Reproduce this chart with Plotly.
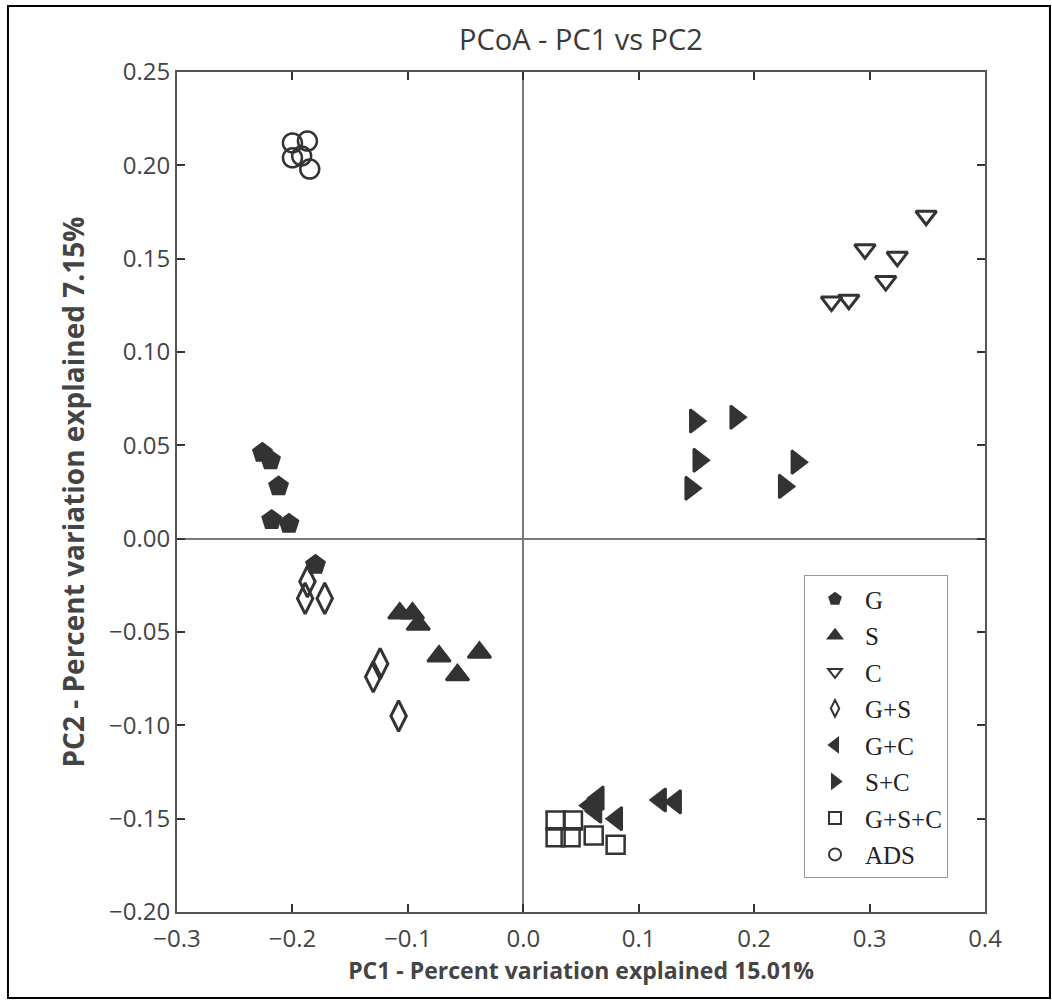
import plotly.graph_objects as go

# PCoA coordinates (PC1, PC2) per treatment group
g_x = [-0.226, -0.219, -0.212, -0.218, -0.203, -0.180]
g_y = [0.046, 0.042, 0.028, 0.010, 0.008, -0.014]

s_x = [-0.107, -0.096, -0.091, -0.073, -0.038, -0.057]
s_y = [-0.040, -0.040, -0.046, -0.063, -0.061, -0.073]

c_x = [0.349, 0.296, 0.324, 0.314, 0.282, 0.267]
c_y = [0.173, 0.155, 0.151, 0.138, 0.128, 0.127]

gs_x = [-0.187, -0.189, -0.172, -0.124, -0.130, -0.108]
gs_y = [-0.023, -0.032, -0.032, -0.067, -0.074, -0.095]

gc_x = [0.065, 0.058, 0.063, 0.081, 0.119, 0.132]
gc_y = [-0.139, -0.143, -0.146, -0.150, -0.140, -0.141]

sc_x = [0.149, 0.184, 0.152, 0.237, 0.145, 0.226]
sc_y = [0.063, 0.065, 0.042, 0.041, 0.027, 0.028]

gsc_x = [0.028, 0.043, 0.028, 0.041, 0.061, 0.080]
gsc_y = [-0.151, -0.151, -0.160, -0.160, -0.159, -0.164]

ads_x = [-0.200, -0.187, -0.200, -0.192, -0.185]
ads_y = [0.212, 0.213, 0.204, 0.205, 0.198]

x_ticks = [-0.3, -0.2, -0.1, 0.0, 0.1, 0.2, 0.3, 0.4]
y_ticks = [-0.20, -0.15, -0.10, -0.05, 0.00, 0.05, 0.10, 0.15, 0.20, 0.25]

INK = "#333333"

# (name, x, y, symbol, size, line width, legend rank); drawing order puts overlapping groups on top
series = [
    ("G+S+C", gsc_x, gsc_y, "square-open", 18, 2.5, 7),
    ("G+C", gc_x, gc_y, "triangle-left", 20, 2.5, 5),
    ("G+S", gs_x, gs_y, "diamond-tall-open", 22, 3, 4),
    ("G", g_x, g_y, "pentagon", 19, 2.5, 1),
    ("S", s_x, s_y, "triangle-up", 20, 2.5, 2),
    ("C", c_x, c_y, "triangle-down-open", 18, 3, 3),
    ("S+C", sc_x, sc_y, "triangle-right", 20, 2.5, 6),
    ("ADS", ads_x, ads_y, "circle-open", 19, 2.5, 8),
]

fig = go.Figure()
for name, xs, ys, sym, size, lw, rank in series:
    fig.add_trace(go.Scatter(
        x=xs, y=ys, mode="markers", name=name,
        legendgroup=name, legendrank=rank,
        marker=dict(symbol=sym, size=size, color=INK,
                    line=dict(color=INK, width=lw)),
    ))

axis_common = dict(
    showgrid=False, ticks="inside", ticklen=8, tickwidth=2, tickcolor=INK,
    showline=True, linecolor="#555555", linewidth=2, mirror="ticks",
    zeroline=True, zerolinecolor="#7a7a7a", zerolinewidth=2,
    tickfont=dict(family="Open Sans", size=24, color="#444444"),
)

fig.update_layout(
    width=1052, height=1000,
    margin=dict(l=177, r=67, t=72, b=88),
    paper_bgcolor="white", plot_bgcolor="white",
    title=dict(text="PCoA - PC1 vs PC2", x=0.5, xref="paper",
               y=0.96, yref="container", yanchor="middle",
               font=dict(family="Open Sans", size=29, color="#3a3a3a")),
    xaxis=dict(range=[-0.3, 0.4], tickvals=x_ticks, tickformat=".1f",
               ticklabelstandoff=4,
               title=dict(text="<b>PC1 - Percent variation explained 15.01%</b>",
                          font=dict(family="Open Sans", size=23, color="#444444"),
                          standoff=6),
               **axis_common),
    yaxis=dict(range=[-0.20, 0.25], tickvals=y_ticks, tickformat=".2f",
               title=dict(text="<b>PC2 - Percent variation explained 7.15%</b>",
                          font=dict(family="Open Sans", size=28, color="#444444"),
                          standoff=16),
               **axis_common),
    legend=dict(x=0.776, y=0.401, xanchor="left", yanchor="top",
                bgcolor="white", bordercolor="#999999", borderwidth=1,
                font=dict(family="Liberation Serif", size=25, color="#222222"),
                traceorder="grouped", tracegroupgap=1, itemsizing="constant",
                itemwidth=50),
    showlegend=True,
    shapes=[dict(type="rect", xref="paper", yref="paper",
                 x0=-0.2092, x1=1.0804, y0=-0.1024, y1=1.0786,
                 line=dict(color="black", width=2), layer="below")],
)

fig.write_html("out.html")
